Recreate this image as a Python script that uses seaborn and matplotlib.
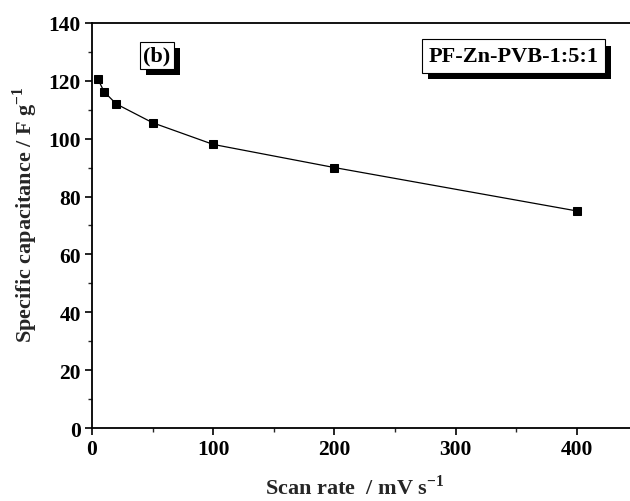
import numpy as np
import pandas as pd
import matplotlib
matplotlib.use("Agg")
import matplotlib.pyplot as plt
import matplotlib.patheffects as pe
import seaborn as sns

# data
scan_rate = [5, 10, 20, 50, 100, 200, 400]
capacitance = [120.5, 116.2, 112.0, 105.5, 98.0, 90.0, 75.0]

df = pd.DataFrame({"scan_rate": scan_rate, "capacitance": capacitance})

sns.set_style("ticks")
plt.rcParams['font.family'] = ['Liberation Serif', 'DejaVu Serif']
plt.rcParams['font.weight'] = 'bold'
plt.rcParams['mathtext.fontset'] = 'custom'
plt.rcParams['mathtext.rm'] = 'Liberation Serif'
plt.rcParams['mathtext.bf'] = 'Liberation Serif:bold'

fig = plt.figure(figsize=(6.3, 5.02), dpi=100)
ax = fig.add_axes([0.146, 0.1454, 0.854, 0.807])

sns.lineplot(data=df, x="scan_rate", y="capacitance", ax=ax,
             color="black", linewidth=0.9, marker="s", markersize=5.5,
             markeredgecolor="black", markerfacecolor="black")

ax.set_xlim(0, 443.7)
ax.set_ylim(0, 140)
ax.set_xticks([0, 100, 200, 300, 400])
ax.set_xticks([50, 150, 250, 350], minor=True)
ax.set_yticks(np.arange(0, 141, 20))
ax.set_yticks(np.arange(10, 140, 20), minor=True)

for s in ["left", "bottom", "top"]:
    ax.spines[s].set_linewidth(1.3)
    ax.spines[s].set_color("black")
ax.spines["right"].set_visible(False)

ax.tick_params(which="major", direction="out", length=5, width=1.2,
               labelsize=15.5, colors="black", top=False, right=False, pad=3)
ax.tick_params(which="minor", direction="out", length=3, width=1.0,
               top=False, right=False)
for lab in ax.get_xticklabels() + ax.get_yticklabels():
    lab.set_fontweight("bold")

ax.set_xlabel(r"Scan rate  / mV s$^{-1}$", fontsize=16, fontweight="bold")
ax.set_ylabel(r"Specific capacitance / F g$^{-1}$", fontsize=16, fontweight="bold")
ax.xaxis.set_label_coords(0.489, -0.114)
ax.yaxis.set_label_coords(-0.097, 0.53)

# boxed labels with a drop shadow
shadow = [pe.withSimplePatchShadow(offset=(4.5, -4.5), shadow_rgbFace="black", alpha=1.0)]
for x, y, s, pad in [(0.121, 0.92, "(b)", 0.15),
                     (0.783, 0.918, "PF-Zn-PVB-1:5:1", 0.3)]:
    t = ax.text(x, y, s, transform=ax.transAxes, fontsize=16, fontweight="bold",
                color="black", va="center", ha="center", zorder=5,
                bbox=dict(boxstyle=f"square,pad={pad}", fc="white", ec="black", lw=0.8))
    t.get_bbox_patch().set_path_effects(shadow)

fig.savefig("out.png", dpi=100)
